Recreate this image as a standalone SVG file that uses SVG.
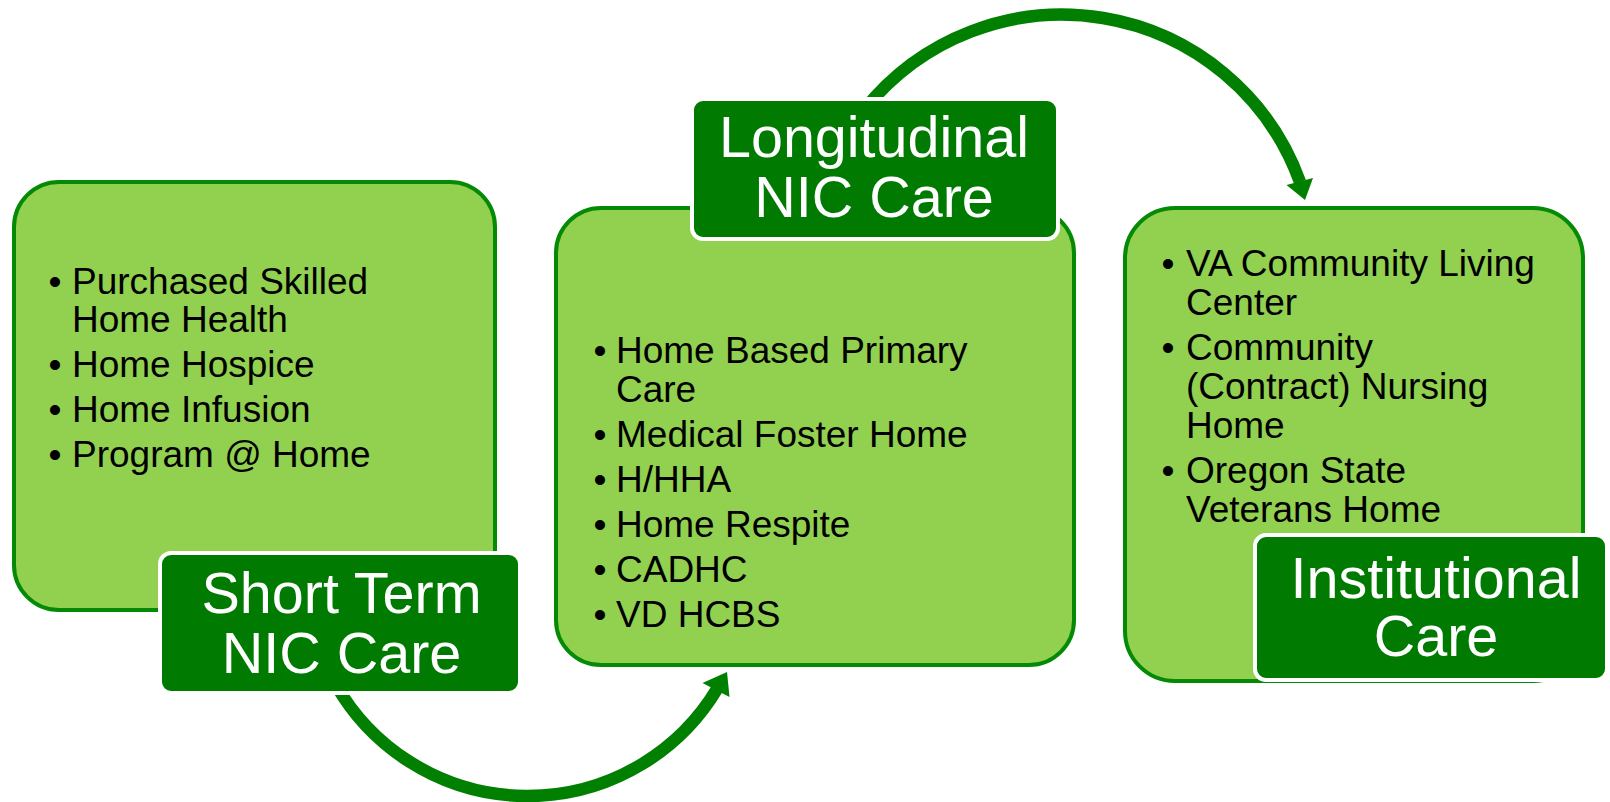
<svg xmlns="http://www.w3.org/2000/svg" width="1610" height="802" viewBox="0 0 1610 802">
  <style>
    .box { fill: #92D050; stroke: #058A05; stroke-width: 4; }
    .label { fill: #007A00; stroke: #FFFFFF; stroke-width: 4; }
    .item { font-family: "Liberation Sans", Arial, sans-serif; font-size: 37px; fill: #000000; }
    .title { font-family: "Liberation Sans", Arial, sans-serif; font-size: 57.5px; fill: #FFFFFF; text-anchor: middle; }
    .arc { fill: none; stroke: #007F00; stroke-width: 12.5; }
    .head { fill: #007F00; }
  </style>
  <rect width="1610" height="802" fill="#FFFFFF"/>

  <g id="connectors">
    <path class="arc" d="M 336 685 A 221 221 0 0 0 717 689"/>
    <polygon class="head" points="727,672 702.5,683 729.5,697"/>
    <path class="arc" d="M 864 110 A 253 253 0 0 1 1300 182"/>
    <polygon class="head" points="1305,200 1286.5,185 1313,178"/>
  </g>

  <g id="node-short-term">
    <rect class="box" x="14" y="182" width="481" height="428" rx="45" ry="45"/>
    <text class="item" x="48.5" y="294">•</text>
    <text class="item" x="72" y="294">Purchased Skilled</text>
    <text class="item" x="72" y="332">Home Health</text>
    <text class="item" x="48.5" y="377">•</text>
    <text class="item" x="72" y="377">Home Hospice</text>
    <text class="item" x="48.5" y="422">•</text>
    <text class="item" x="72" y="422">Home Infusion</text>
    <text class="item" x="48.5" y="467">•</text>
    <text class="item" x="72" y="467">Program @ Home</text>
    <rect class="label" x="160" y="553" width="360" height="140" rx="11" ry="11"/>
    <text class="title" x="341.5" y="613">Short Term</text>
    <text class="title" x="341.5" y="673">NIC Care</text>
  </g>

  <g id="node-longitudinal">
    <rect class="box" x="556" y="208" width="518" height="457" rx="45" ry="45"/>
    <text class="item" x="593.5" y="363">•</text>
    <text class="item" x="616" y="363">Home Based Primary</text>
    <text class="item" x="616" y="402">Care</text>
    <text class="item" x="593.5" y="447">•</text>
    <text class="item" x="616" y="447">Medical Foster Home</text>
    <text class="item" x="593.5" y="492">•</text>
    <text class="item" x="616" y="492">H/HHA</text>
    <text class="item" x="593.5" y="537">•</text>
    <text class="item" x="616" y="537">Home Respite</text>
    <text class="item" x="593.5" y="582">•</text>
    <text class="item" x="616" y="582">CADHC</text>
    <text class="item" x="593.5" y="627">•</text>
    <text class="item" x="616" y="627">VD HCBS</text>
    <rect class="label" x="692" y="99" width="366" height="140" rx="11" ry="11"/>
    <text class="title" x="874" y="157">Longitudinal</text>
    <text class="title" x="874" y="217">NIC Care</text>
  </g>

  <g id="node-institutional">
    <rect class="box" x="1125" y="208" width="458" height="473" rx="50" ry="50"/>
    <text class="item" x="1161.5" y="276">•</text>
    <text class="item" x="1186" y="276">VA Community Living</text>
    <text class="item" x="1186" y="315">Center</text>
    <text class="item" x="1161.5" y="360">•</text>
    <text class="item" x="1186" y="360">Community</text>
    <text class="item" x="1186" y="399">(Contract) Nursing</text>
    <text class="item" x="1186" y="438">Home</text>
    <text class="item" x="1161.5" y="483">•</text>
    <text class="item" x="1186" y="483">Oregon State</text>
    <text class="item" x="1186" y="522">Veterans Home</text>
    <rect class="label" x="1255" y="535" width="352" height="145" rx="11" ry="11"/>
    <text class="title" x="1436" y="598">Institutional</text>
    <text class="title" x="1436" y="656">Care</text>
  </g>
</svg>
